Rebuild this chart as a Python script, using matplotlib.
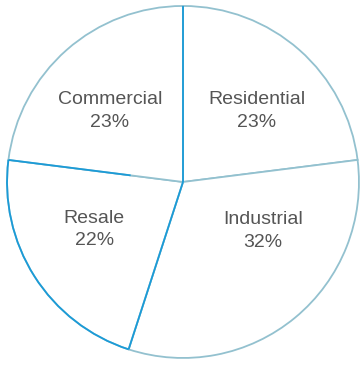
import numpy as np
import matplotlib.pyplot as plt
from matplotlib.patches import Arc

# power usage by customer type
categories = ["Residential", "Industrial", "Resale", "Commercial"]
shares = [23, 32, 22, 23]

# label centres (axes data units, pie radius = 1)
label_pos = [(0.42, 0.405), (0.455, -0.28), (-0.505, -0.27), (-0.415, 0.405)]

edge_soft = "#93c1cf"
edge_bright = "#1b9bd7"

fig = plt.figure(figsize=(3.63, 3.65), dpi=100)
ax = fig.add_axes([0, 0, 1, 1])

wedges, _ = ax.pie(shares, startangle=90, counterclock=False, radius=1.0,
                   colors=["white"] * 4,
                   wedgeprops=dict(edgecolor=edge_soft, linewidth=1.3))

# a few boundaries are drawn in the stronger blue
bounds = 90 - np.cumsum([0] + shares) * 3.6
for ang, r0 in [(bounds[0], 0.0), (bounds[2], 0.0), (bounds[3], 0.3)]:
    a = np.deg2rad(ang)
    ax.plot([r0 * np.cos(a), np.cos(a)], [r0 * np.sin(a), np.sin(a)],
            color=edge_bright, lw=1.3, solid_capstyle="butt")
ax.add_patch(Arc((0, 0), 2, 2, theta1=bounds[3], theta2=bounds[2] + 360,
                 color=edge_bright, lw=1.3))

for name, pct, (x, y) in zip(categories, shares, label_pos):
    ax.text(x, y, f"{name}\n{pct}%", ha="center", va="center",
            fontsize=14, color="#555555", family="Liberation Sans",
            linespacing=1.45)

ax.set_xlim(-1.04, 1.023)
ax.set_ylim(-1.04, 1.034)
ax.set_aspect("auto")
ax.axis("off")

fig.savefig("out.png", dpi=100, facecolor="white")
